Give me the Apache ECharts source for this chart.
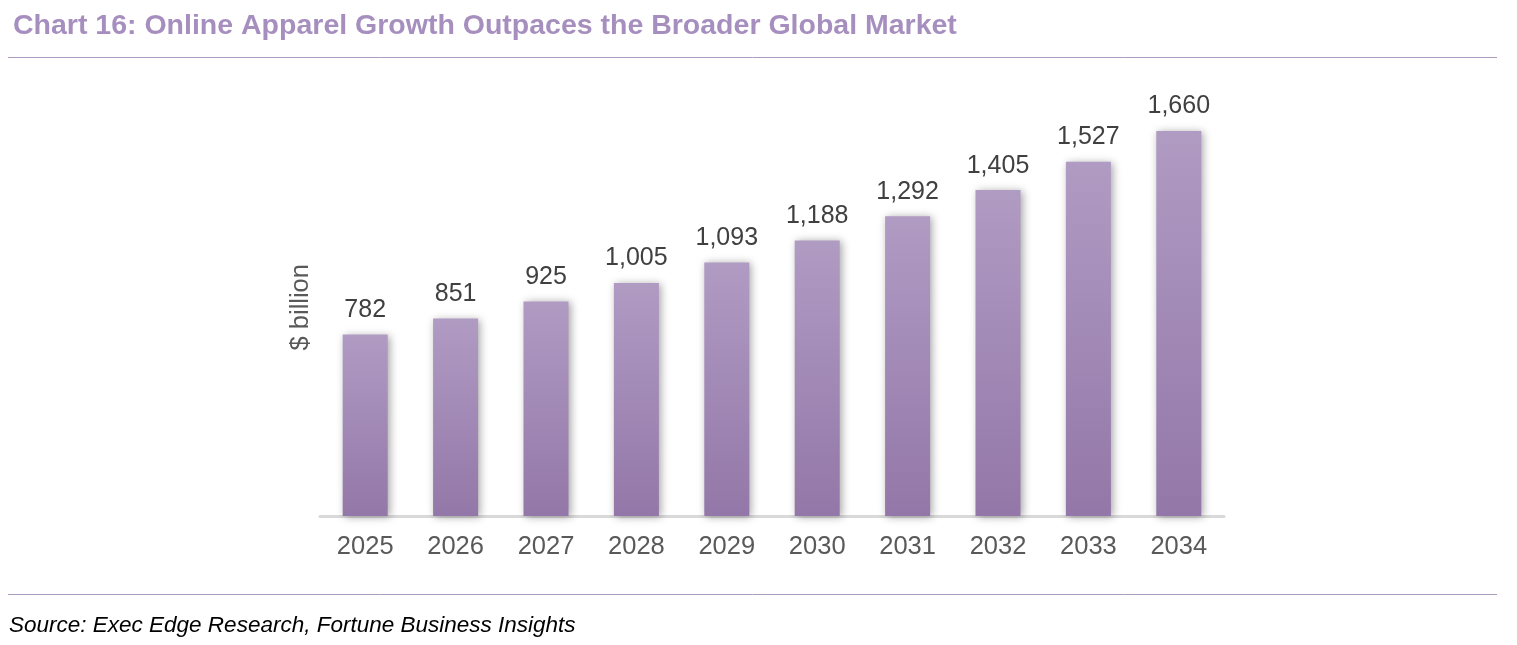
<!DOCTYPE html>
<html>
<head>
    <meta charset="utf-8">
    <title>Chart 16</title>
    <script src="https://cdn.jsdelivr.net/npm/echarts@6/dist/echarts.min.js"></script>
    <style>
        html, body { margin: 0; padding: 0; background: #fff; }
        #main { width: 1517px; height: 645px; }
    </style>
</head>
<body>
    <div id="main"></div>
    <script type="text/javascript">
        // data
        var years = ['2025', '2026', '2027', '2028', '2029', '2030', '2031', '2032', '2033', '2034'];
        var marketSize = [782, 851, 925, 1005, 1093, 1188, 1292, 1405, 1527, 1660];

        var myChart = echarts.init(document.getElementById('main'));
        var font = '"Liberation Sans", Arial, sans-serif';

        var option = {
            backgroundColor: '#ffffff',
            animation: false,
            title: {
                text: 'Chart 16: Online Apparel Growth Outpaces the Broader Global Market',
                left: 8,
                top: 7,
                textStyle: { color: '#a68fbe', fontSize: 28.5, fontWeight: 'bold', fontFamily: font }
            },
            graphic: [
                { type: 'line', shape: { x1: 8, y1: 57.5, x2: 1497, y2: 57.5 }, style: { stroke: '#ab9bc0', lineWidth: 1 } },
                { type: 'line', shape: { x1: 8, y1: 594.5, x2: 1497, y2: 594.5 }, style: { stroke: '#ab9bc0', lineWidth: 1 } },
                {
                    type: 'text', left: 9, top: 614,
                    style: { text: 'Source: Exec Edge Research, Fortune Business Insights', fill: '#000000', fontSize: 22.5, fontStyle: 'italic', fontFamily: font }
                }
            ],
            grid: { left: 320, right: 293, top: 98.5, bottom: 129 },
            xAxis: {
                type: 'category',
                data: years,
                axisLine: { lineStyle: { color: '#d9d9d9', width: 3 } },
                axisTick: { show: false },
                axisLabel: { color: '#595959', fontSize: 25.5, fontFamily: font, margin: 18 }
            },
            yAxis: {
                type: 'value',
                min: 0,
                max: 1800,
                name: '$ billion',
                nameLocation: 'middle',
                nameRotate: 90,
                nameGap: 6,
                nameTextStyle: { color: '#595959', fontSize: 25.5, fontFamily: font },
                axisLine: { show: false },
                axisTick: { show: false },
                axisLabel: { show: false },
                splitLine: { show: false }
            },
            series: [{
                type: 'bar',
                data: marketSize,
                barWidth: 45,
                itemStyle: {
                    color: new echarts.graphic.LinearGradient(0, 0, 0, 1, [
                        { offset: 0, color: '#b09bc3' },
                        { offset: 1, color: '#9377a8' }
                    ]),
                    shadowColor: 'rgba(0, 0, 0, 0.35)',
                    shadowBlur: 8,
                    shadowOffsetX: 2,
                    shadowOffsetY: 1
                },
                label: {
                    show: true,
                    position: 'top',
                    distance: 12,
                    color: '#404040',
                    fontSize: 25,
                    fontFamily: font,
                    formatter: function (p) { return p.value.toLocaleString('en-US'); }
                }
            }]
        };

        myChart.setOption(option);
    </script>
</body>
</html>
